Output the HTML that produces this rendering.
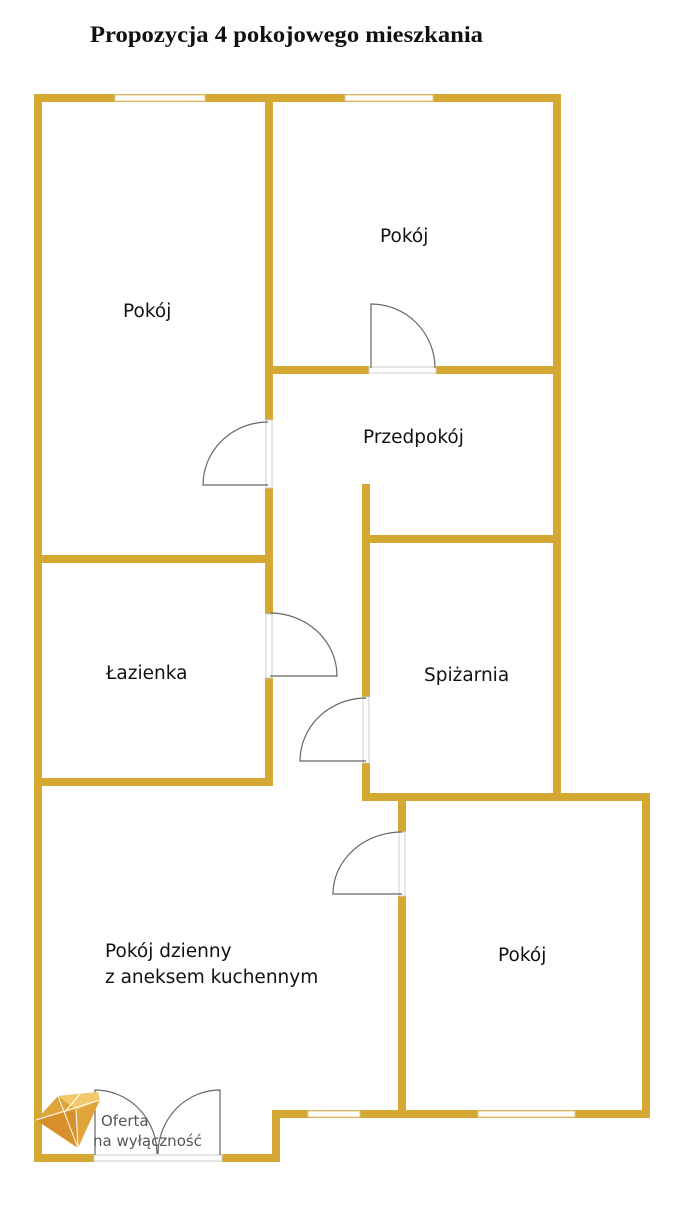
<!DOCTYPE html>
<html><head><meta charset="utf-8"><style>
body{margin:0;background:#fff;width:693px;height:1200px;overflow:hidden}
</style></head><body>
<svg width="693" height="1200" viewBox="0 0 693 1200" xmlns="http://www.w3.org/2000/svg">
<rect width="693" height="1200" fill="#fff"/>
<text x="90" y="42" font-family="Liberation Serif, serif" font-weight="bold" font-size="23.5" fill="#111" textLength="393" lengthAdjust="spacingAndGlyphs">Propozycja 4 pokojowego mieszkania</text>
<g fill="#D4A832">
<rect x="34" y="94" width="527" height="8"/>
<rect x="34" y="94" width="8" height="1068"/>
<rect x="553" y="94" width="8" height="707"/>
<rect x="362" y="793" width="288" height="8"/>
<rect x="642" y="793" width="8" height="325"/>
<rect x="272" y="1110" width="378" height="8"/>
<rect x="272" y="1110" width="8" height="52"/>
<rect x="34" y="1154" width="60" height="8"/>
<rect x="222" y="1154" width="58" height="8"/>
<rect x="265" y="94" width="8" height="326"/>
<rect x="265" y="488" width="8" height="126"/>
<rect x="265" y="678" width="8" height="108"/>
<rect x="265" y="366" width="104" height="8"/>
<rect x="436" y="366" width="125" height="8"/>
<rect x="34" y="555" width="239" height="8"/>
<rect x="34" y="778" width="239" height="8"/>
<rect x="362" y="484" width="8" height="213"/>
<rect x="362" y="763" width="8" height="38"/>
<rect x="362" y="535" width="199" height="8"/>
<rect x="398" y="793" width="8" height="39"/>
<rect x="398" y="896" width="8" height="222"/>
</g>
<g fill="#fff" stroke="#e0c98a" stroke-width="1">
<rect x="115" y="95" width="90" height="6"/>
<rect x="345" y="95" width="88" height="6"/>
<rect x="308" y="1111" width="52" height="6"/>
<rect x="478" y="1111" width="97" height="6"/>
</g>
<g fill="none" stroke="#ccc" stroke-width="1">
<rect x="266" y="420" width="6" height="68"/>
<rect x="266" y="614" width="6" height="64"/>
<rect x="363" y="697" width="6" height="66"/>
<rect x="399" y="832" width="6" height="64"/>
<rect x="369" y="367" width="67" height="6"/>
<rect x="94" y="1155" width="128" height="6"/>
</g>
<g fill="none" stroke="#666" stroke-width="1.2">
<path d="M268 422 A65 63 0 0 0 203 485 L268 485"/>
<path d="M270 613 A67 63 0 0 1 337 676 L270 676"/>
<path d="M366 698 A66 63 0 0 0 300 761 L366 761"/>
<path d="M402 832 A69 62 0 0 0 333 894 L402 894"/>
<path d="M371 368 L371 304 A64 64 0 0 1 435 368"/>
<path d="M95 1155 L95 1090 A62 64 0 0 1 157 1154"/>
<path d="M220 1155 L220 1090 A62 64 0 0 0 158 1154"/>
</g>
<g font-family="DejaVu Sans, Liberation Sans, sans-serif" font-size="18.5" fill="#111">
<text x="123" y="317">Pokój</text>
<text x="380" y="242">Pokój</text>
<text x="363" y="443">Przedpokój</text>
<text x="106" y="679">Łazienka</text>
<text x="424" y="681">Spiżarnia</text>
<text x="105" y="957">Pokój dzienny</text>
<text x="105" y="983">z aneksem kuchennym</text>
<text x="498" y="961">Pokój</text>
</g>
<polygon points="36,1120 58,1096 98,1092 100,1100 78,1148" fill="#E0A53A"/>
<polygon points="58,1096 98,1092 100,1100 76,1110" fill="#F2C96A"/>
<polygon points="36,1120 76,1110 78,1148" fill="#D8902A"/>
<g stroke="#fff" stroke-width="1" fill="none"><path d="M36 1120 L100 1100 M58 1096 L78 1148 M76 1110 L78 1148 M80 1094 L64 1113"/></g>
<g font-family="DejaVu Sans, Liberation Sans, sans-serif" font-size="15" fill="#555">
<text x="101" y="1126">Oferta</text>
<text x="93" y="1146">na wyłączność</text>
</g>
</svg>
</body></html>
